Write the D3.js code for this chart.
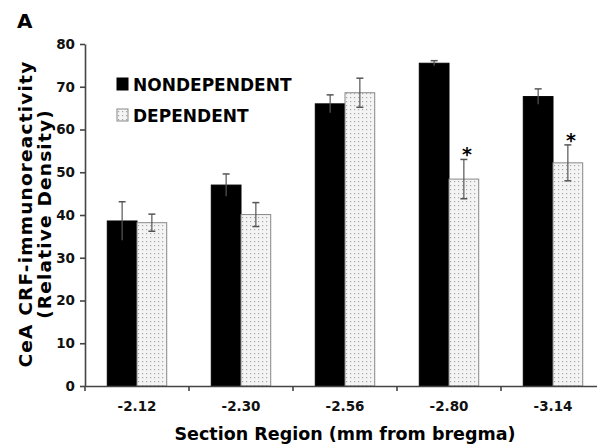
<!DOCTYPE html>
<html>
<head>
<meta charset="utf-8">
<script src="https://cdn.jsdelivr.net/npm/d3@7"></script>
<style>
  body { margin: 0; background: #fff; }
  svg { font-family: "DejaVu Sans", Verdana, sans-serif; font-weight: bold; }
</style>
</head>
<body>
<svg id="chart" width="597" height="445"></svg>
<script>
// data
var regions = ["-2.12", "-2.30", "-2.56", "-2.80", "-3.14"];
var series = ["NONDEPENDENT", "DEPENDENT"];
var nondependent = [38.6, 47.0, 66.0, 75.5, 67.7];
var nondependentErr = [4.5, 2.6, 2.1, 0.6, 1.8];
var dependent = [38.2, 40.1, 68.6, 48.4, 52.2];
var dependentErr = [2.0, 2.8, 3.4, 4.6, 4.2];
var significant = [false, false, false, true, true];
var yTicks = [0, 10, 20, 30, 40, 50, 60, 70, 80];

var svg = d3.select("#chart");

var plotLeft = 85, plotRight = 605, plotTop = 44, plotBottom = 386;

var x0 = d3.scaleBand().domain(regions).range([plotLeft, plotRight]).padding(0);
var x1 = d3.scaleBand().domain(series).range([0, x0.bandwidth()]).paddingInner(0).paddingOuter(0.75);
var y = d3.scaleLinear().domain([0, 80]).range([plotBottom, plotTop]);

// dotted fill for DEPENDENT bars
var defs = svg.append("defs");
var pat = defs.append("pattern")
    .attr("id", "dots")
    .attr("patternUnits", "userSpaceOnUse")
    .attr("width", 4).attr("height", 4);
pat.append("rect").attr("width", 4).attr("height", 4).attr("fill", "#f4f4f4");
pat.append("rect").attr("x", 1).attr("y", 1).attr("width", 1.2).attr("height", 1.2).attr("fill", "#a8a8a8");

var rows = regions.map(function(r, i) {
    return [
        {region: r, s: "NONDEPENDENT", v: nondependent[i], e: nondependentErr[i], sig: false},
        {region: r, s: "DEPENDENT", v: dependent[i], e: dependentErr[i], sig: significant[i]}
    ];
});

var groups = svg.selectAll("g.grp")
    .data(rows)
    .enter().append("g")
    .attr("class", "grp")
    .attr("transform", function(d, i) { return "translate(" + x0(regions[i]) + ",0)"; });

var bars = groups.selectAll("g.bar")
    .data(function(d) { return d; })
    .enter().append("g").attr("class", "bar");

bars.append("rect")
    .attr("x", function(d) { return x1(d.s); })
    .attr("y", function(d) { return y(d.v); })
    .attr("width", x1.bandwidth())
    .attr("height", function(d) { return y(0) - y(d.v); })
    .attr("fill", function(d) { return d.s == "NONDEPENDENT" ? "#000" : "url(#dots)"; })
    .attr("stroke", function(d) { return d.s == "NONDEPENDENT" ? "#000" : "#888"; })
    .attr("stroke-width", 1);

// error bars
function cx(d) { return x1(d.s) + x1.bandwidth() / 2; }
bars.append("line")
    .attr("x1", cx).attr("x2", cx)
    .attr("y1", function(d) { return y(d.v - d.e); })
    .attr("y2", function(d) { return y(d.v + d.e); })
    .attr("stroke", "#555").attr("stroke-width", 1.2);
bars.append("line")
    .attr("x1", function(d) { return cx(d) - 3.5; })
    .attr("x2", function(d) { return cx(d) + 3.5; })
    .attr("y1", function(d) { return y(d.v + d.e); })
    .attr("y2", function(d) { return y(d.v + d.e); })
    .attr("stroke", "#555").attr("stroke-width", 1.5);
bars.filter(function(d) { return d.s == "DEPENDENT"; }).append("line")
    .attr("x1", function(d) { return cx(d) - 3.5; })
    .attr("x2", function(d) { return cx(d) + 3.5; })
    .attr("y1", function(d) { return y(d.v - d.e); })
    .attr("y2", function(d) { return y(d.v - d.e); })
    .attr("stroke", "#555").attr("stroke-width", 1.5);

// asterisks
bars.filter(function(d) { return d.sig; }).append("text")
    .attr("x", function(d) { return cx(d) + 3; })
    .attr("y", function(d) { return y(d.v + d.e) + 2; })
    .attr("text-anchor", "middle")
    .attr("font-size", 19)
    .text("*");

// y axis
var yAxis = svg.append("g")
    .attr("transform", "translate(" + plotLeft + ",0)")
    .call(d3.axisLeft(y).tickValues(yTicks).tickSize(5).tickSizeOuter(0));
yAxis.selectAll("text").attr("font-size", 13.5).attr("font-family", "DejaVu Sans").attr("font-weight", "bold").attr("fill", "#111").attr("dx", "-2");
yAxis.selectAll("line, path").attr("stroke", "#444").attr("stroke-width", 1.6);

// x axis: labels at band centers, ticks at band edges
var xAxis = svg.append("g")
    .attr("transform", "translate(0," + plotBottom + ")")
    .call(d3.axisBottom(x0).tickSize(0).tickSizeOuter(0).tickPadding(15));
xAxis.select("path").attr("stroke", "#444").attr("stroke-width", 1.6);
xAxis.selectAll("text").attr("font-size", 13.5).attr("font-family", "DejaVu Sans").attr("font-weight", "bold").attr("fill", "#111");
xAxis.selectAll("line.edge")
    .data(regions)
    .enter().append("line")
    .attr("class", "edge")
    .attr("x1", function(d) { return x0(d); })
    .attr("x2", function(d) { return x0(d); })
    .attr("y1", 0).attr("y2", 5)
    .attr("stroke", "#444").attr("stroke-width", 1.6);

// legend
var legend = svg.append("g").attr("transform", "translate(117,78)");
series.forEach(function(s, i) {
    legend.append("rect")
        .attr("x", 0).attr("y", i * 31)
        .attr("width", 11).attr("height", 12)
        .attr("fill", i == 0 ? "#000" : "url(#dots)")
        .attr("stroke", i == 0 ? "#000" : "#888");
    legend.append("text")
        .attr("x", 16).attr("y", i * 31 + 12.5)
        .attr("font-size", 17)
        .text(s);
});

// titles
svg.append("text").attr("x", 17).attr("y", 28).attr("font-size", 20).text("A");

svg.append("text")
    .attr("transform", "translate(32,214) rotate(-90)")
    .attr("text-anchor", "middle")
    .attr("font-size", 18.5)
    .attr("letter-spacing", 1.2)
    .text("CeA CRF-immunoreactivity");
svg.append("text")
    .attr("transform", "translate(51,214) rotate(-90)")
    .attr("text-anchor", "middle")
    .attr("font-size", 18.5)
    .attr("letter-spacing", 1.2)
    .text("(Relative Density)");

svg.append("text")
    .attr("x", 345).attr("y", 440)
    .attr("text-anchor", "middle")
    .attr("font-size", 17.5)
    .text("Section Region (mm from bregma)");
</script>
</body>
</html>
